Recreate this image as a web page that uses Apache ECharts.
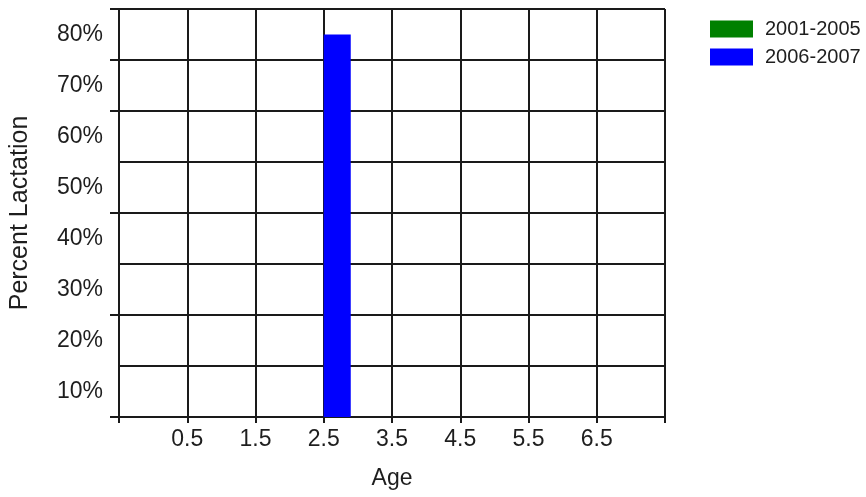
<!DOCTYPE html>
<html>
<head>
<meta charset="utf-8">
<script src="https://cdn.jsdelivr.net/npm/echarts@6/dist/echarts.min.js"></script>
<style>
html,body{margin:0;padding:0;background:#fff;}
#chart{width:866px;height:497px;}
</style>
</head>
<body>
<div id="chart"></div>
<script>
// Data
var ageLabels = ['', '0.5', '1.5', '2.5', '3.5', '4.5', '5.5', '6.5', ' '];
var yTickLabels = ['10%', '20%', '30%', '40%', '50%', '60%', '70%', '80%'];
var seriesNames = ['2001-2005', '2006-2007'];
var values2001_2005 = [null, null, null, null, null, null, null, null, null];
var values2006_2007 = [null, null, null, 80, null, null, null, null, null];

var FONT = 'Liberation Sans, Arial, sans-serif';
var LINE = '#1a1a1a';
var TEXT = '#1e1e1e';

var chart = echarts.init(document.getElementById('chart'));
chart.setOption({
  animation: false,
  backgroundColor: '#fff',
  textStyle: { fontFamily: FONT },
  grid: { left: 119, right: 201, top: 9, bottom: 80, containLabel: false, outerBoundsMode: 'none' },
  legend: {
    orient: 'vertical',
    left: 705,
    top: 14,
    padding: 5,
    itemWidth: 43,
    itemHeight: 17,
    itemGap: 8,
    icon: 'rect',
    data: seriesNames,
    textStyle: { fontSize: 20, color: TEXT, fontFamily: FONT, lineHeight: 17, padding: [0, 0, 0, 7] }
  },
  xAxis: {
    type: 'category',
    data: ageLabels,
    boundaryGap: false,
    name: 'Age',
    nameLocation: 'middle',
    nameGap: 50,
    nameTextStyle: { fontSize: 23, color: TEXT, fontFamily: FONT },
    axisLine: { show: true, lineStyle: { color: LINE, width: 2 } },
    axisTick: { show: true, interval: 0, length: 6, lineStyle: { color: LINE, width: 2 } },
    axisLabel: { interval: 0, margin: 11, fontSize: 23, color: TEXT, fontFamily: FONT },
    splitLine: { show: true, interval: 0, lineStyle: { color: LINE, width: 2 } }
  },
  yAxis: [
    {
      type: 'category',
      data: yTickLabels,
      boundaryGap: true,
      name: 'Percent Lactation',
      nameLocation: 'middle',
      nameGap: 86,
      nameTextStyle: { fontSize: 25, color: TEXT, fontFamily: FONT },
      axisLine: { show: true, lineStyle: { color: LINE, width: 2 } },
      axisTick: { show: true, interval: 1, length: 9, lineStyle: { color: LINE, width: 2 } },
      axisLabel: { interval: 0, margin: 16, fontSize: 23, color: TEXT, fontFamily: FONT },
      splitLine: { show: true, interval: 0, lineStyle: { color: LINE, width: 2 } }
    },
    {
      type: 'value',
      min: 5,
      max: 85,
      show: false,
      splitLine: { show: false }
    }
  ],
  series: [
    {
      name: seriesNames[0],
      type: 'bar',
      yAxisIndex: 1,
      data: values2001_2005,
      barWidth: 27,
      barGap: '0%',
      clip: true,
      itemStyle: { color: '#008000' }
    },
    {
      name: seriesNames[1],
      type: 'bar',
      yAxisIndex: 1,
      data: values2006_2007,
      barWidth: 27,
      barGap: '0%',
      clip: true,
      itemStyle: { color: '#0000ff' }
    }
  ]
});
</script>
</body>
</html>
